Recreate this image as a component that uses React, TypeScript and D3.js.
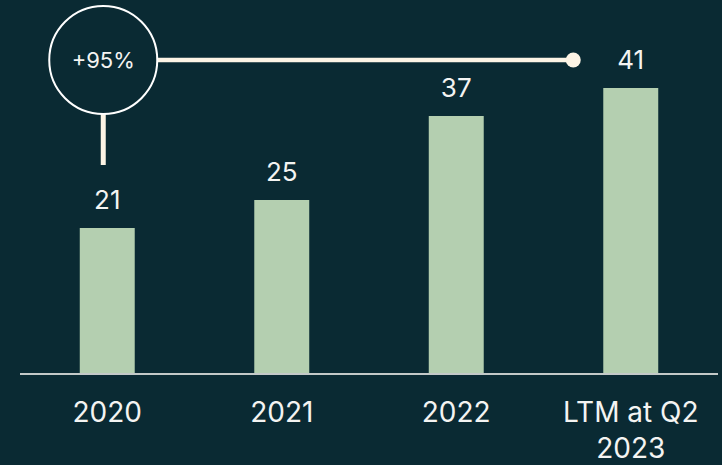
import { useEffect, useRef } from "react";
import * as d3 from "d3";

const categories = ["2020", "2021", "2022", "LTM at Q2\n2023"];
const values = [21, 25, 37, 41];
const growthLabel = "+95%";

const W = 722;
const H = 465;
const BG = "#0a2a33";
const BAR = "#b4cfb0";
const CREAM = "#fcf4e5";
const TEXT = "#f4f4f2";
const FONT = "Inter, 'Liberation Sans', sans-serif";

export default function App ()
{
    const svgRef = useRef<SVGSVGElement>( null );

    useEffect( () =>
    {
        if ( !svgRef.current ) return;
        const svg = d3.select( svgRef.current );
        svg.selectAll( "*" ).remove();

        const base = 375;
        const x = d3.scaleBand().domain( categories ).range( [ 20, 718 ] ).paddingInner( 0.685 ).paddingOuter( 0.3425 );
        const y = d3.scaleLinear().domain( [ 0, 41 ] ).range( [ base, base - 287 ] );

        svg.append( "rect" ).attr( "width", W ).attr( "height", H ).attr( "fill", BG );

        // bars
        svg.append( "g" ).selectAll( "rect" ).data( values ).join( "rect" )
            .attr( "x", ( _, i ) => x( categories[ i ] ) || 0 ).attr( "width", x.bandwidth() )
            .attr( "y", ( d ) => y( d ) ).attr( "height", ( d ) => base - y( d ) )
            .attr( "fill", BAR );

        // baseline
        svg.append( "line" ).attr( "x1", 20 ).attr( "x2", 718 ).attr( "y1", base - 1 ).attr( "y2", base - 1 )
            .attr( "stroke", "#c3c9c8" ).attr( "stroke-width", 2 );

        // value labels
        svg.append( "g" ).selectAll( "text" ).data( values ).join( "text" )
            .attr( "x", ( _, i ) => ( x( categories[ i ] ) || 0 ) + x.bandwidth() / 2 )
            .attr( "y", ( d ) => y( d ) - 19 )
            .attr( "text-anchor", "middle" ).attr( "fill", TEXT )
            .style( "font-size", "26px" ).style( "font-family", FONT )
            .text( ( d ) => d );

        // category labels
        const cat = svg.append( "g" ).selectAll( "text" ).data( categories ).join( "text" )
            .attr( "x", ( d ) => ( x( d ) || 0 ) + x.bandwidth() / 2 )
            .attr( "y", 422 )
            .attr( "text-anchor", "middle" ).attr( "fill", TEXT )
            .style( "font-size", "28px" ).style( "font-family", FONT );
        cat.each( function ( d )
        {
            const lines = d.split( "\n" );
            d3.select( this ).selectAll( "tspan" ).data( lines ).join( "tspan" )
                .attr( "x", ( x( d ) || 0 ) + x.bandwidth() / 2 )
                .attr( "dy", ( _, i ) => ( i === 0 ? 0 : 36 ) )
                .text( ( l ) => l );
        } );

        // growth annotation
        const cx = ( x( categories[ 0 ] ) || 0 ) + x.bandwidth() / 2 - 4;
        const cy = 60;
        const r = 54;
        const dotX = ( x( categories[ 3 ] ) || 0 ) - 30;

        svg.append( "line" ).attr( "x1", cx + r ).attr( "x2", dotX ).attr( "y1", cy ).attr( "y2", cy )
            .attr( "stroke", CREAM ).attr( "stroke-width", 4.5 );
        svg.append( "circle" ).attr( "cx", dotX ).attr( "cy", cy ).attr( "r", 7.5 ).attr( "fill", CREAM );
        svg.append( "line" ).attr( "x1", cx ).attr( "x2", cx ).attr( "y1", cy + r ).attr( "y2", 165 )
            .attr( "stroke", CREAM ).attr( "stroke-width", 5 );
        svg.append( "circle" ).attr( "cx", cx ).attr( "cy", cy ).attr( "r", r )
            .attr( "fill", BG ).attr( "stroke", "#ffffff" ).attr( "stroke-width", 2 );
        svg.append( "text" ).attr( "x", cx ).attr( "y", cy + 8 ).attr( "text-anchor", "middle" )
            .attr( "fill", TEXT ).style( "font-size", "22px" ).style( "font-family", FONT )
            .text( growthLabel );
    }, [] );

    return (
        <svg ref={ svgRef } width={ W } height={ H } style={ { position: "absolute", top: 0, left: 0 } } />
    );
}
